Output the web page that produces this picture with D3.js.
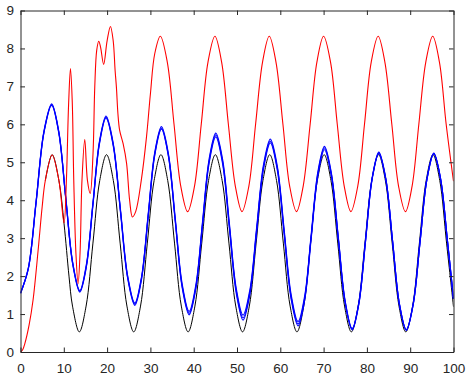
<!DOCTYPE html>
<html>
<head>
<meta charset="utf-8">
<script src="https://cdn.jsdelivr.net/npm/d3@7"></script>
<style>
  body { margin: 0; background: #fff; }
  .axis text { font-family: "Liberation Sans", Arial, sans-serif; font-size: 13.5px; fill: #262626; }
  .axis path, .axis line { stroke: #262626; }
</style>
</head>
<body>
<div id="my_dataviz"></div>
<script>
// tick labels
var xTicks = [0, 10, 20, 30, 40, 50, 60, 70, 80, 90, 100];
var yTicks = [0, 1, 2, 3, 4, 5, 6, 7, 8, 9];

// black curve (before x=10 it sits under the red one)
var blackX = [5.73, 7.3, 8.87, 10.06, 11.2, 12.01, 13.58, 15.15, 16.73, 18.3,
  19.87, 21.44, 23.01, 24.58, 26.15, 27.72, 29.29, 30.86, 32.43, 34.0, 35.57, 37.14, 38.71, 40.28,
  41.86, 43.43, 45.0, 46.57, 48.14, 49.71, 51.28, 52.85, 54.42, 55.99, 57.56, 59.13, 60.7, 62.27,
  63.85, 65.42, 66.99, 68.56, 70.13, 71.7, 73.27, 74.84, 76.41, 77.98, 79.55, 81.12, 82.7, 84.27,
  85.84, 87.41, 88.98, 90.55, 92.12, 93.69, 95.26, 96.83, 98.4, 100];
var blackY = [4.52, 5.2, 4.52, 3.38, 2.0, 1.21, 0.53, 1.21, 2.87, 4.52,
  5.2, 4.52, 2.87, 1.21, 0.53, 1.21, 2.87, 4.52, 5.2, 4.52, 2.87, 1.21, 0.53, 1.21,
  2.87, 4.52, 5.2, 4.52, 2.87, 1.21, 0.53, 1.21, 2.87, 4.52, 5.2, 4.52, 2.87, 1.21,
  0.53, 1.21, 2.87, 4.52, 5.2, 4.52, 2.87, 1.21, 0.53, 1.21, 2.87, 4.52, 5.2, 4.52,
  2.87, 1.21, 0.53, 1.21, 2.87, 4.52, 5.2, 4.52, 2.87, 1.19];

// red curve
var redX = [0, 0.5, 1, 2, 2.9, 4.07, 5.0, 5.73, 7.3, 8.87, 10.06, 10.6, 11.1, 11.54, 11.95, 12.3, 12.8,
  13.3, 13.75, 14.2, 14.84, 15.45, 16.1, 16.75, 17.15, 17.6, 18.07, 18.5, 19.2, 20.0, 20.77, 21.4,
  21.85, 22.15, 22.5, 22.9, 23.7, 24.5, 25.2, 25.85, 26.6, 27.9, 29.1, 30.0, 31.0, 32.3,
  33.9, 35.45, 37.0, 38.6, 40.2, 41.75, 43.3, 44.9, 46.45, 48.0, 49.6, 51.15, 52.75, 54.3, 55.9,
  57.45, 59.0, 60.6, 62.15, 63.75, 65.3, 66.9, 68.45, 70.0, 71.6, 73.15, 74.75, 76.3, 77.9, 79.45,
  81.0, 82.6, 84.15, 85.75, 87.3, 88.9, 90.45, 92.0, 93.6, 95.2, 96.75, 98.3, 100];
var redY = [0, 0.06, 0.22, 0.72, 1.37, 2.68, 3.82, 4.52, 5.19, 4.52, 3.4, 4.53, 6.5, 7.47, 6.6, 4.53, 2.6,
  1.8, 2.6, 4.53, 5.6, 4.53, 4.18, 5.23, 6.98, 7.95, 8.19, 8.03, 7.58, 8.2, 8.58, 8.21,
  7.42, 6.98, 6.28, 5.84, 5.49, 4.97, 4.0, 3.56, 3.7, 4.53, 5.67, 6.8, 7.86, 8.32,
  7.64, 6.01, 4.38, 3.7, 4.38, 6.01, 7.64, 8.32, 7.64, 6.01, 4.38, 3.7, 4.38, 6.01, 7.64,
  8.32, 7.64, 6.01, 4.38, 3.7, 4.38, 6.01, 7.64, 8.32, 7.64, 6.01, 4.38, 3.7, 4.38, 6.01,
  7.64, 8.32, 7.64, 6.01, 4.38, 3.7, 4.38, 6.01, 7.64, 8.32, 7.64, 6.01, 4.5];

// blue curves share the same x positions
var blueX = [0, 1.8, 3.6, 5.4, 7.2, 8.83, 10.45, 12.08, 13.7, 15.21, 16.73, 18.24, 19.75,
  21.41, 23.08, 24.74, 26.4, 27.94, 29.48, 31.01, 32.55, 34.15, 35.75, 37.35, 38.95,
  40.49, 42.03, 43.56, 45.1, 46.68, 48.25, 49.83, 51.4, 52.98, 54.55, 56.13, 57.7,
  59.3, 60.9, 62.5, 64.1, 65.63, 67.15, 68.68, 70.2, 71.8, 73.4, 75.0, 76.6,
  78.14, 79.68, 81.21, 82.75, 84.34, 85.93, 87.51, 89.1, 90.69, 92.28, 93.86, 95.45,
  97.0, 98.6, 100];
var blue1 = [1.55, 2.21, 3.97, 5.81, 6.54, 5.82, 4.08, 2.34, 1.62, 2.3, 3.93, 5.55, 6.22,
  5.5, 3.76, 2.01, 1.29, 1.97, 3.62, 5.26, 5.94, 5.23, 3.51, 1.78, 1.07,
  1.76, 3.42, 5.08, 5.77, 5.07, 3.37, 1.67, 0.97, 1.64, 3.29, 4.94, 5.61,
  4.9, 3.21, 1.51, 0.8, 1.47, 3.11, 4.75, 5.42, 4.71, 3.02, 1.33, 0.62,
  1.3, 2.95, 4.59, 5.27, 4.59, 2.93, 1.27, 0.59, 1.27, 2.92, 4.56, 5.24,
  4.58, 2.93, 1.4];
var blue2 = [1.55, 2.2, 3.95, 5.79, 6.52, 5.8, 4.06, 2.32, 1.6, 2.27, 3.9, 5.52, 6.19,
  5.47, 3.73, 1.98, 1.26, 1.94, 3.58, 5.22, 5.9, 5.19, 3.46, 1.73, 1.02,
  1.71, 3.37, 5.03, 5.72, 5.01, 3.31, 1.61, 0.9, 1.58, 3.23, 4.88, 5.56,
  4.85, 3.15, 1.45, 0.74, 1.42, 3.06, 4.7, 5.38, 4.68, 2.99, 1.3, 0.6,
  1.28, 2.93, 4.57, 5.25, 4.57, 2.92, 1.26, 0.58, 1.26, 2.91, 4.55, 5.23,
  4.57, 2.93, 1.4];
var blue3 = [1.55, 2.19, 3.93, 5.77, 6.5, 5.78, 4.04, 2.3, 1.58, 2.24, 3.87, 5.49, 6.16,
  5.44, 3.7, 1.95, 1.23, 1.91, 3.55, 5.19, 5.87, 5.16, 3.43, 1.69, 0.98,
  1.67, 3.32, 4.98, 5.67, 4.96, 3.25, 1.55, 0.84, 1.52, 3.18, 4.83, 5.51,
  4.8, 3.1, 1.4, 0.69, 1.37, 3.01, 4.65, 5.33, 4.63, 2.96, 1.28, 0.58,
  1.26, 2.91, 4.55, 5.23, 4.56, 2.91, 1.25, 0.57, 1.25, 2.9, 4.54, 5.22,
  4.56, 2.93, 1.4];

// set the dimensions and margins of the graph
var margin = { top: 10.5, right: 13.5, bottom: 23, left: 20.5 },
  width = 467 - margin.left - margin.right,
  height = 375 - margin.top - margin.bottom;

var svg = d3.select("#my_dataviz")
  .append("svg")
  .attr("width", width + margin.left + margin.right)
  .attr("height", height + margin.top + margin.bottom)
  .append("g")
  .attr("transform", "translate(" + margin.left + "," + margin.top + ")");

var x = d3.scaleLinear().domain([0, 100]).range([0, width]);
var y = d3.scaleLinear().domain([0, 9]).range([height, 0]);

svg.append("clipPath").attr("id", "clip")
  .append("rect").attr("width", width).attr("height", height);

// lines
function pairs(xs, ys) {
  return xs.map(function (d, i) { return [d, ys[i]]; });
}
var line = d3.line()
  .x(function (d) { return x(d[0]); })
  .y(function (d) { return y(d[1]); })
  .curve(d3.curveCatmullRom.alpha(0.5));

var plot = svg.append("g").attr("clip-path", "url(#clip)");

plot.append("path")
  .datum(pairs(blackX, blackY))
  .attr("d", line)
  .attr("fill", "none")
  .attr("stroke", "#000")
  .attr("stroke-width", 1);

[blue1, blue2, blue3].forEach(function (b) {
  plot.append("path")
    .datum(pairs(blueX, b))
    .attr("d", line)
    .attr("fill", "none")
    .attr("stroke", "#0000ff")
    .attr("stroke-width", 1.2);
});

plot.append("path")
  .datum(pairs(redX, redY))
  .attr("d", line)
  .attr("fill", "none")
  .attr("stroke", "#ff0000")
  .attr("stroke-width", 1.1);

// axes, ticks pointing inward on all four sides
svg.append("g")
  .attr("class", "axis")
  .attr("transform", "translate(0," + height + ")")
  .call(d3.axisBottom(x).tickValues(xTicks).tickSizeInner(-4.5).tickSizeOuter(0).tickPadding(11.4));

svg.append("g")
  .attr("class", "axis")
  .call(d3.axisLeft(y).tickValues(yTicks).tickSizeInner(-4.5).tickSizeOuter(0).tickPadding(6.5));

svg.append("g")
  .attr("class", "axis")
  .call(d3.axisTop(x).tickValues(xTicks).tickSizeInner(-4.5).tickSizeOuter(0).tickFormat(""));

svg.append("g")
  .attr("class", "axis")
  .attr("transform", "translate(" + width + ",0)")
  .call(d3.axisRight(y).tickValues(yTicks).tickSizeInner(-4.5).tickSizeOuter(0).tickFormat(""));

svg.selectAll(".axis").attr("font-size", null).attr("font-family", null);
</script>
</body>
</html>
